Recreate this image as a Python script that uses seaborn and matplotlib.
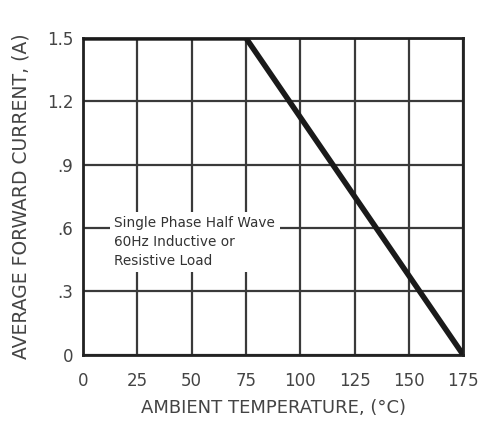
import numpy as np
import pandas as pd
import matplotlib
matplotlib.use("Agg")
import matplotlib.pyplot as plt
import seaborn as sns

temps = [0, 75, 175]
current = [1.5, 1.5, 0.0]
x_ticks = [0, 25, 50, 75, 100, 125, 150, 175]
y_ticks = [0, 0.3, 0.6, 0.9, 1.2, 1.5]
y_labels = ["0", ".3", ".6", ".9", "1.2", "1.5"]

sns.set_style("white")
plt.rcParams['font.family'] = ['DejaVu Sans']

df = pd.DataFrame({'temp': temps, 'current': current})

fig = plt.figure(figsize=(4.82, 4.26), dpi=100)
ax = fig.add_axes([0.172, 0.167, 0.789, 0.744])

sns.lineplot(data=df, x='temp', y='current', ax=ax, color='#1a1a1a', linewidth=4, zorder=5)

ax.set_xlim(0, 175)
ax.set_ylim(0, 1.5)
ax.set_xticks(x_ticks)
ax.set_yticks(y_ticks)
ax.set_yticklabels(y_labels)
ax.grid(True, color='#3a3a3a', linewidth=1.6)
ax.tick_params(axis='x', length=0, labelsize=12, colors='#444444', pad=12)
ax.tick_params(axis='y', length=0, labelsize=12, colors='#444444', pad=7)
for s in ax.spines.values():
    s.set_color('#222222')
    s.set_linewidth(2)

ax.set_xlabel('AMBIENT TEMPERATURE, (°C)', fontsize=13, color='#444444', labelpad=7)
ax.set_ylabel('AVERAGE FORWARD CURRENT, (A)', fontsize=13.5, color='#444444', labelpad=12)

ax.text(14.5, 0.535, 'Single Phase Half Wave\n60Hz Inductive or\nResistive Load',
        fontsize=9.8, color='#333333', va='center', ha='left', linespacing=1.45,
        bbox=dict(facecolor='white', edgecolor='none', pad=3), zorder=6)

fig.savefig('out.png', dpi=100)
